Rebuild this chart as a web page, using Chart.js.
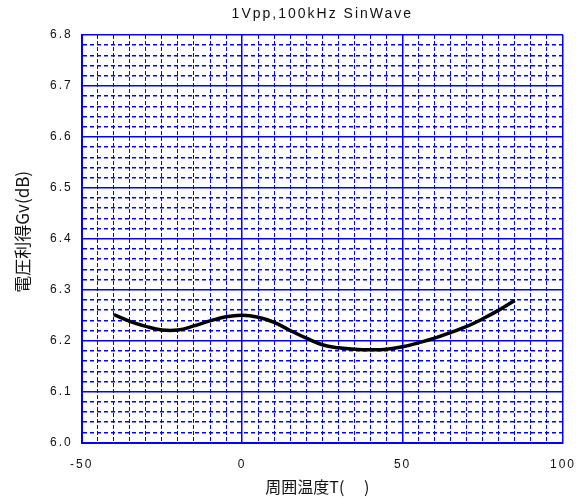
<!DOCTYPE html>
<html>
<head>
<meta charset="utf-8">
<script src="https://cdn.jsdelivr.net/npm/chart.js@4"></script>
<style>
  html, body { margin: 0; padding: 0; background: #fff; }
  #wrap { width: 576px; height: 498px; }
</style>
</head>
<body>
<div id="wrap"><canvas id="gainChart"></canvas></div>
<script>
// ambient temperature (C) and measured voltage gain (dB)
var temps = [-40, -35, -30, -25, -20, -15, -10, -5, 0, 5, 10, 15, 20, 25, 30, 35, 40, 45, 50, 55, 60, 65, 70, 75, 80, 85];
var gains = [6.251, 6.238, 6.228, 6.221, 6.221, 6.229, 6.239, 6.247, 6.250, 6.246, 6.236, 6.220, 6.205, 6.192,
             6.186, 6.183, 6.182, 6.183, 6.188, 6.196, 6.205, 6.216, 6.228, 6.243, 6.260, 6.279];
var xTickLabels = [-50, 0, 50, 100];
var yTickLabels = [6.0, 6.1, 6.2, 6.3, 6.4, 6.5, 6.6, 6.7, 6.8];
var titleText = '1Vpp,100kHz SinWave';
var xTitle = '周囲温度T(\u3000 )';
var yTitle = '電圧利得Gv(dB)';

var points = [];
for (var i = 0; i < temps.length; i++) {
  points.push({x: temps[i], y: gains[i]});
}

function isLabelX(v) {
  return xTickLabels.indexOf(Math.round(v)) >= 0 && Math.abs(v - Math.round(v)) < 1e-6;
}
function isLabelY(v) {
  for (var k = 0; k < yTickLabels.length; k++) {
    if (Math.abs(v - yTickLabels[k]) < 1e-6) return true;
  }
  return false;
}

// wide letter spacing for the numeric labels
var spacing = {
  id: 'spacing',
  beforeLayout: function (chart) { chart.ctx.letterSpacing = '2px'; },
  beforeDraw: function (chart) { chart.ctx.letterSpacing = '2px'; }
};

// chart title and axis titles, placed around the plot area
var titles = {
  id: 'titles',
  afterDraw: function (chart) {
    var a = chart.chartArea, ctx = chart.ctx;
    var cx = (a.left + a.right) / 2, cy = (a.top + a.bottom) / 2;
    ctx.save();
    ctx.fillStyle = '#111';
    ctx.textAlign = 'center';
    ctx.textBaseline = 'middle';
    ctx.letterSpacing = '2px';
    ctx.font = '14px "Liberation Sans", Arial, sans-serif';
    ctx.fillText(titleText, cx, 14);
    ctx.letterSpacing = '0px';
    ctx.font = '16px "Noto Sans CJK JP", sans-serif';
    ctx.fillText(xTitle, cx - 5, a.bottom + 44);
    ctx.font = '17px "Noto Sans CJK JP", sans-serif';
    ctx.translate(23, cy - 7);
    ctx.rotate(-Math.PI / 2);
    ctx.fillText(yTitle, 0, 0);
    ctx.restore();
  }
};

var tickFont = {family: '"Liberation Sans", Arial, sans-serif', size: 12};

var gainChart = new Chart(document.getElementById('gainChart'), {
  type: 'line',
  data: {
    datasets: [{
      data: points,
      borderColor: '#000',
      borderWidth: 3.5,
      pointRadius: 0,
      tension: 0.4,
      fill: false
    }]
  },
  options: {
    responsive: true,
    maintainAspectRatio: false,
    animation: false,
    layout: {padding: {top: 35, right: 0, left: 41, bottom: 26}},
    plugins: {
      legend: {display: false},
      tooltip: {enabled: false}
    },
    scales: {
      x: {
        type: 'linear',
        min: -50,
        max: 100,
        grid: {
          color: '#0000ff',
          lineWidth: function (c) { return isLabelX(c.tick.value) ? 1.5 : 1; },
          drawTicks: true,
          tickLength: 15,
          tickColor: 'rgba(0,0,0,0)'
        },
        border: {
          color: '#0000ff',
          width: 2,
          dash: function (c) { return (c.tick && !isLabelX(c.tick.value)) ? [4, 2] : []; }
        },
        ticks: {
          stepSize: 5,
          autoSkip: false,
          maxRotation: 0,
          padding: 0,
          color: '#111',
          font: tickFont,
          callback: function (v) { return isLabelX(v) ? String(Math.round(v)) : ''; }
        }
      },
      y: {
        min: 6.0,
        max: 6.8,
        grid: {
          color: '#0000ff',
          lineWidth: 1.5,
          drawTicks: false
        },
        border: {
          color: '#0000ff',
          width: 2,
          dash: function (c) { return (c.tick && !isLabelY(c.tick.value)) ? [4, 3] : []; }
        },
        ticks: {
          stepSize: 0.02,
          autoSkip: false,
          maxTicksLimit: 100,
          padding: 9,
          color: '#111',
          font: tickFont,
          callback: function (v) { return isLabelY(v) ? v.toFixed(1) : ''; }
        }
      }
    }
  },
  plugins: [spacing, titles]
});
</script>
</body>
</html>
